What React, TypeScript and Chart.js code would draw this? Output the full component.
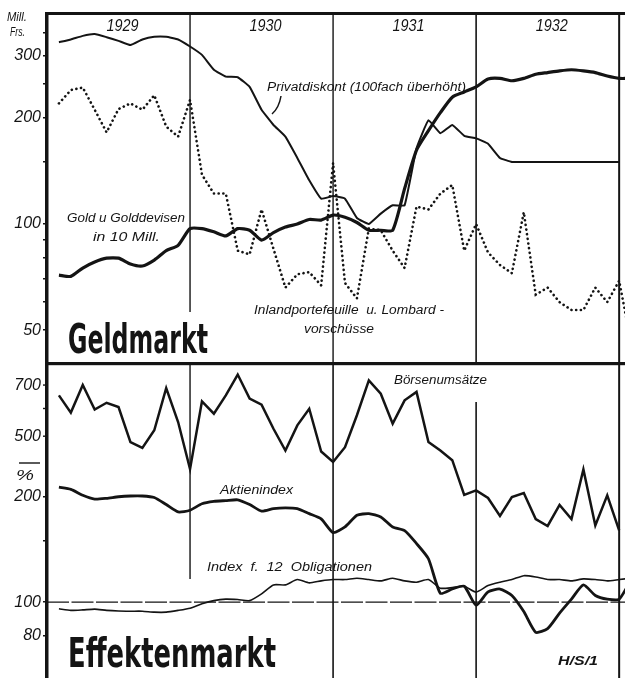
import React, { useEffect, useRef } from 'react';
import { Chart, registerables } from 'chart.js';

Chart.register(...registerables);

// ---------- data (monthly, Jan 1929 .. Dec 1932; a trailing value runs off the right edge) ----------
const YEARS = ['1929', '1930', '1931', '1932'];

// Geldmarkt (Mill. Frs., log scale)
const PRIVATDISKONT = [
  328, 334, 342, 346, 339, 331, 322, 334, 340, 340, 334, 319,
  302, 274, 262, 261, 245, 211, 191, 177, 154, 133, 118, 120,
  118, 104, 100, 107, 113, 113, 164, 197, 181, 191, 178, 175,
  169, 154, 150, 150, 150, 150, 150, 150, 150, 150, 150, 150,
];
const GOLD = [
  71.6, 71, 75, 78, 80, 80, 77, 76, 79, 84, 87, 97,
  97, 95, 92.5, 97, 96, 90, 94.5, 98, 100, 103, 102.6, 106,
  104.5, 101, 96, 96, 96, 126, 162, 184, 207, 229, 237, 245,
  258, 259, 255, 259, 266, 269, 272, 274, 272, 269, 263, 259,
  259,
];
const INLANDPORTEFEUILLE = [
  220, 240, 244, 211, 182, 212, 220, 211, 232, 189, 177, 225,
  138, 122, 122, 84, 82, 110, 85, 66, 72, 73, 67, 149,
  68, 61.5, 97, 96, 84, 75, 112, 110, 122, 129, 84, 100,
  83, 76.5, 72.5, 108, 63, 66, 60, 57, 57, 66, 60, 69,
  46,
];

// Effektenmarkt
const BOERSENUMSAETZE = [
  654, 584, 700, 596, 623, 606, 481, 463, 520, 686, 549, 403,
  629, 580, 654, 750, 640, 615, 525, 455, 537, 599, 452, 422,
  465, 574, 722, 661, 543, 633, 669, 481, 455, 427, 340, 350,
  333, 296, 335, 344, 290, 277, 318, 290, 402, 278, 339, 269,
];
const AKTIENINDEX = [
  213, 210, 202, 197, 198, 200, 201, 201, 199, 190, 181, 183,
  191, 194, 195, 196, 190, 182, 185, 186, 185, 179, 173, 158,
  164, 177, 179, 175, 164, 160, 147, 133, 106, 109, 111, 98,
  107, 109, 104.5, 94, 82, 84, 93, 102, 112, 104.5, 102, 102,
  116,
];
const OBLIGATIONEN = [
  95.7, 94.7, 95, 95.5, 94.7, 94.3, 94.2, 94.2, 93.6, 93.6, 94.7, 96.1,
  98.9, 101, 102, 101.7, 101, 105.6, 112, 112, 116, 113.5, 115, 116,
  116, 117, 116, 115, 117, 115, 114, 116, 109.6, 110, 111, 106.8,
  111.5, 114, 116, 119, 118, 116, 116, 115, 116.5, 116, 115, 116,
  117,
];

// axis ticks
const TOP_TICKS = [50, 60, 70, 80, 90, 100, 150, 200, 250, 300, 350];
const TOP_LABELED = [50, 100, 200, 300];
const IDX_TICKS = [80, 100, 150, 200];
const IDX_LABELED = [80, 100, 200];
const BOERSEN_TICKS = [500, 600, 700];
const BOERSEN_LABELED = [500, 700];

// ---------- styling ----------
const INK = '#141414';
const TICK_FONT_CSS = 'italic 16px "Liberation Sans", Arial, sans-serif';
const LABEL_FONT = 'italic 12.5px "Liberation Sans", Arial, sans-serif';
const TITLE_FONT = 'bold 40px "DejaVu Sans Condensed", "DejaVu Sans", sans-serif';

const toPoints = (arr: number[]) => arr.map((v, i) => ({ x: i + 1, y: v }));

function fitText(
  ctx: CanvasRenderingContext2D,
  text: string,
  x: number,
  y: number,
  width: number,
  font: string,
  align: 'left' | 'center' | 'right' = 'left',
  baseline: CanvasTextBaseline = 'middle'
) {
  ctx.save();
  ctx.font = font;
  ctx.fillStyle = INK;
  ctx.textAlign = 'left';
  ctx.textBaseline = baseline;
  const w = ctx.measureText(text).width;
  const s = width / w;
  ctx.translate(x, y);
  ctx.scale(s, 1);
  const dx = align === 'center' ? -w / 2 : align === 'right' ? -w : 0;
  ctx.fillText(text, dx, 0);
  ctx.restore();
}

function vline(ctx: CanvasRenderingContext2D, x: number, y1: number, y2: number, w: number) {
  ctx.beginPath();
  ctx.lineWidth = w;
  ctx.moveTo(x, y1);
  ctx.lineTo(x, y2);
  ctx.stroke();
}

const X_MAX = 48.49;

const yAxisCommon = (ticks: number[], labeled: number[], min: number, max: number) => ({
  type: 'logarithmic' as const,
  position: 'left' as const,
  min,
  max,
  afterBuildTicks: (s: any) => {
    s.ticks = ticks.map((v) => ({ value: v }));
  },
  afterFit: (s: any) => {
    s.width = 47;
    s.paddingTop = 0;
    s.paddingBottom = 0;
  },
  ticks: {
    autoSkip: false,
    padding: 2,
    color: INK,
    font: { family: '"Liberation Sans", Arial, sans-serif', style: 'italic' as const, size: 16 },
    callback: (v: any) => (labeled.includes(Number(v)) ? String(v) : ''),
  },
  grid: { drawOnChartArea: false, drawTicks: true, tickLength: 4, color: INK, lineWidth: 1.4 },
  border: { display: true, width: 3.5, color: INK },
});

// ---------- plugins ----------
const topDecor = {
  id: 'topDecor',
  beforeDatasetsDraw(chart: any) {
    const { ctx, chartArea: a, scales } = chart;
    const x = scales.x;
    ctx.save();
    ctx.strokeStyle = INK;
    vline(ctx, x.getPixelForValue(12), a.top, 312, 1.4);
    vline(ctx, x.getPixelForValue(24), a.top, a.bottom, 1.4);
    vline(ctx, x.getPixelForValue(36), a.top, a.bottom, 1.6);
    vline(ctx, x.getPixelForValue(48), a.top, a.bottom, 2);
    // top frame
    ctx.fillStyle = INK;
    ctx.fillRect(a.left - 1.5, a.top - 2, a.right - a.left + 1.5, 3);
    // divider to the lower panel
    ctx.fillRect(a.left - 1.5, a.bottom - 2, a.right - a.left + 1.5, 2);
    ctx.restore();
  },
  afterDraw(chart: any) {
    const { ctx, scales } = chart;
    const x = scales.x;
    YEARS.forEach((yr, i) => {
      const cx = x.getPixelForValue(i * 12 + 6) + 4;
      fitText(ctx, yr, cx, 27, 32, 'italic 16px "Liberation Sans", Arial, sans-serif', 'center');
    });
    fitText(ctx, 'Mill.', 7, 17, 20, 'italic 13px "Liberation Sans", Arial, sans-serif');
    fitText(ctx, 'Frs.', 10, 32, 15, 'italic 13px "Liberation Sans", Arial, sans-serif');
    fitText(ctx, 'Privatdiskont (100fach überhöht)', 267, 87.5, 199, LABEL_FONT);
    fitText(ctx, 'Gold u Golddevisen', 67, 219, 118, LABEL_FONT);
    fitText(ctx, 'in 10 Mill.', 93, 238, 67, LABEL_FONT);
    fitText(ctx, 'Inlandportefeuille  u. Lombard -', 254, 311, 190, LABEL_FONT);
    fitText(ctx, 'vorschüsse', 304, 330, 70, LABEL_FONT);
    fitText(ctx, 'Geldmarkt', 68, 353, 140, TITLE_FONT, 'left', 'alphabetic');
    // pointer from label to the Privatdiskont curve
    ctx.save();
    ctx.strokeStyle = INK;
    ctx.lineWidth = 1.5;
    ctx.beginPath();
    ctx.moveTo(281, 96);
    ctx.quadraticCurveTo(279, 108, 272, 114);
    ctx.stroke();
    ctx.restore();
  },
};

const bottomDecor = {
  id: 'bottomDecor',
  beforeDatasetsDraw(chart: any) {
    const { ctx, chartArea: a, scales } = chart;
    const x = scales.x;
    const yi = scales.yi;
    ctx.save();
    ctx.strokeStyle = INK;
    vline(ctx, x.getPixelForValue(12), a.top, 579 - 364, 1.4);
    vline(ctx, x.getPixelForValue(24), a.top, a.bottom, 1.6);
    vline(ctx, x.getPixelForValue(36), 402 - 364, a.bottom, 1.6);
    vline(ctx, x.getPixelForValue(48), a.top, a.bottom, 2);
    ctx.fillStyle = INK;
    ctx.fillRect(a.left - 1.5, a.top, a.right - a.left + 1.5, 1.2);
    // 100 reference line
    const y100 = yi.getPixelForValue(100);
    ctx.beginPath();
    ctx.setLineDash([22, 2.5]);
    ctx.lineWidth = 1.4;
    ctx.moveTo(a.left, y100);
    ctx.lineTo(a.right, y100);
    ctx.stroke();
    ctx.setLineDash([]);
    ctx.restore();
  },
  afterDraw(chart: any) {
    const { ctx, chartArea: a, scales } = chart;
    const yb = scales.yb;
    ctx.save();
    ctx.strokeStyle = INK;
    ctx.fillStyle = INK;
    ctx.font = TICK_FONT_CSS;
    ctx.textAlign = 'right';
    ctx.textBaseline = 'middle';
    BOERSEN_TICKS.forEach((v) => {
      const y = yb.getPixelForValue(v);
      ctx.beginPath();
      ctx.lineWidth = 1.4;
      ctx.moveTo(a.left - 4, y);
      ctx.lineTo(a.left, y);
      ctx.stroke();
      if (BOERSEN_LABELED.includes(v)) ctx.fillText(String(v), a.left - 6, y);
    });
    // "%" unit with its overline
    ctx.fillRect(19, 463 - 364 - 0.7, 21, 1.4);
    ctx.restore();
    fitText(ctx, '%', 25, 476 - 364, 18, 'italic 15px "Liberation Sans", Arial, sans-serif', 'center');
    fitText(ctx, 'Börsenumsätze', 394, 381 - 364, 93, LABEL_FONT);
    fitText(ctx, 'Aktienindex', 220, 491 - 364, 73, LABEL_FONT);
    fitText(ctx, 'Index  f.  12  Obligationen', 207, 568 - 364, 165, LABEL_FONT);
    fitText(ctx, 'H/S/1', 558, 662 - 364, 40, 'italic bold 12px "Liberation Sans", Arial, sans-serif');
    fitText(ctx, 'Effektenmarkt', 68, 667 - 364, 208, TITLE_FONT, 'left', 'alphabetic');
  },
};

export default function App() {
  const topRef = useRef<HTMLCanvasElement>(null);
  const botRef = useRef<HTMLCanvasElement>(null);

  useEffect(() => {
    const top = new Chart(topRef.current as HTMLCanvasElement, {
      type: 'line',
      data: {
        datasets: [
          {
            label: 'Privatdiskont (100fach überhöht)',
            data: toPoints(PRIVATDISKONT),
            borderColor: INK,
            borderWidth: 2,
            tension: 0.1,
            pointRadius: 0,
          },
          {
            label: 'Gold u Golddevisen in 10 Mill.',
            data: toPoints(GOLD),
            borderColor: INK,
            borderWidth: 3.2,
            tension: 0.2,
            pointRadius: 0,
          },
          {
            label: 'Inlandportefeuille u. Lombardvorschüsse',
            data: toPoints(INLANDPORTEFEUILLE),
            borderColor: INK,
            borderWidth: 2.6,
            borderDash: [0.1, 4.6],
            borderCapStyle: 'round',
            tension: 0,
            pointRadius: 0,
          },
        ],
      },
      options: {
        animation: false,
        responsive: false,
        devicePixelRatio: 1,
        layout: { padding: { top: 14, left: 0, right: 0, bottom: 0 } },
        plugins: { legend: { display: false }, tooltip: { enabled: false } },
        scales: {
          x: { type: 'linear', min: 0, max: X_MAX, display: false },
          y: yAxisCommon(TOP_TICKS, TOP_LABELED, 40.05, 394.5) as any,
        },
      },
      plugins: [topDecor],
    } as any);

    const bottom = new Chart(botRef.current as HTMLCanvasElement, {
      type: 'line',
      data: {
        datasets: [
          {
            label: 'Börsenumsätze',
            data: toPoints(BOERSENUMSAETZE),
            yAxisID: 'yb',
            borderColor: INK,
            borderWidth: 2.5,
            tension: 0,
            pointRadius: 0,
          },
          {
            label: 'Aktienindex',
            data: toPoints(AKTIENINDEX),
            yAxisID: 'yi',
            borderColor: INK,
            borderWidth: 2.8,
            tension: 0.2,
            pointRadius: 0,
          },
          {
            label: 'Index f. 12 Obligationen',
            data: toPoints(OBLIGATIONEN),
            yAxisID: 'yi',
            borderColor: INK,
            borderWidth: 1.6,
            tension: 0.2,
            pointRadius: 0,
          },
        ],
      },
      options: {
        animation: false,
        responsive: false,
        devicePixelRatio: 1,
        layout: { padding: { top: 0, left: 0, right: 0, bottom: 0 } },
        plugins: { legend: { display: false }, tooltip: { enabled: false } },
        scales: {
          x: { type: 'linear', min: 0, max: X_MAX, display: false },
          yi: yAxisCommon(IDX_TICKS, IDX_LABELED, 60.7, 479) as any,
          yb: { type: 'logarithmic', min: 101.9, max: 804, display: false },
        },
      },
      plugins: [bottomDecor],
    } as any);

    return () => {
      top.destroy();
      bottom.destroy();
    };
  }, []);

  return (
    <div style={{ position: 'absolute', left: 0, top: 0, width: 625, height: 678, background: '#fff' }}>
      <canvas
        ref={topRef}
        width={625}
        height={364}
        style={{ display: 'block', position: 'absolute', left: 0, top: 0 }}
      />
      <canvas
        ref={botRef}
        width={625}
        height={314}
        style={{ display: 'block', position: 'absolute', left: 0, top: 364 }}
      />
    </div>
  );
}
